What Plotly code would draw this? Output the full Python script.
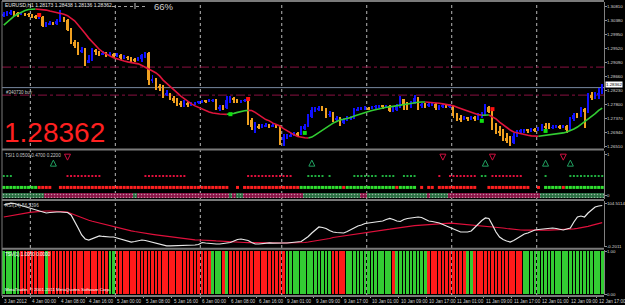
import plotly.graph_objects as go

# ---------------- data ----------------
SYMBOL = "EURUSD,H1"
day_names = ["3 Jan", "4 Jan", "5 Jan", "6 Jan", "9 Jan", "10 Jan", "11 Jan", "12 Jan"]
day_bar_count = [8, 24, 24, 23, 24, 24, 24, 19]
tick_labels = ["3 Jan 2012", "4 Jan 00:00", "4 Jan 08:00", "4 Jan 16:00", "5 Jan 00:00", "5 Jan 08:00",
               "5 Jan 16:00", "6 Jan 00:00", "6 Jan 08:00", "6 Jan 16:00", "9 Jan 01:00", "9 Jan 09:00",
               "9 Jan 17:00", "10 Jan 01:00", "10 Jan 09:00", "10 Jan 17:00", "11 Jan 01:00", "11 Jan 09:00",
               "11 Jan 17:00", "12 Jan 01:00", "12 Jan 09:00", "12 Jan 17:00"]
tick_every = 8

first_open = 1.3055
close = [1.3059, 1.3062, 1.3065, 1.3062, 1.3059, 1.3062, 1.3059, 1.3056, 1.3053, 1.3047,
         1.3050, 1.3022, 1.3028, 1.3031, 1.3028, 1.3038, 1.3050, 1.3041, 1.3010, 1.2973,
         1.2961, 1.2942, 1.2949, 1.2909, 1.2918, 1.2949, 1.2942, 1.2936, 1.2939, 1.2933,
         1.2936, 1.2930, 1.2933, 1.2924, 1.2927, 1.2924, 1.2918, 1.2917, 1.2921, 1.2933,
         1.2939, 1.2856, 1.2859, 1.2838, 1.2832, 1.2810, 1.2817, 1.2801, 1.2792, 1.2783,
         1.2780, 1.2783, 1.2780, 1.2783, 1.2786, 1.2789, 1.2792, 1.2790, 1.2793, 1.2795,
         1.2770, 1.2774, 1.2770, 1.2795, 1.2801, 1.2795, 1.2792, 1.2793, 1.2795, 1.2734,
         1.2712, 1.2715, 1.2712, 1.2715, 1.2718, 1.2715, 1.2718, 1.2715, 1.2672, 1.2681,
         1.2684, 1.2688, 1.2691, 1.2690, 1.2709, 1.2715, 1.2743, 1.2764, 1.2767, 1.2770,
         1.2767, 1.2749, 1.2752, 1.2734, 1.2737, 1.2724, 1.2734, 1.2740, 1.2741, 1.2764,
         1.2767, 1.2770, 1.2771, 1.2767, 1.2774, 1.2775, 1.2777, 1.2774, 1.2777, 1.2761,
         1.2764, 1.2777, 1.2798, 1.2783, 1.2774, 1.2783, 1.2801, 1.2777, 1.2780, 1.2777,
         1.2780, 1.2783, 1.2770, 1.2774, 1.2777, 1.2776, 1.2777, 1.2746, 1.2740, 1.2734,
         1.2740, 1.2737, 1.2740, 1.2737, 1.2749, 1.2752, 1.2774, 1.2758, 1.2718, 1.2700,
         1.2694, 1.2678, 1.2669, 1.2663, 1.2684, 1.2697, 1.2700, 1.2703, 1.2700, 1.2703,
         1.2702, 1.2706, 1.2715, 1.2712, 1.2710, 1.2712, 1.2715, 1.2712, 1.2715, 1.2703,
         1.2737, 1.2749, 1.2746, 1.2767, 1.2758, 1.2810, 1.2801, 1.2813, 1.28173, 1.28362]
high = [1.3065, 1.3068, 1.3071, 1.3068, 1.3065, 1.3065, 1.3063, 1.3062, 1.3059, 1.3056,
        1.3053, 1.3052, 1.3034, 1.3038, 1.3034, 1.3044, 1.3071, 1.3050, 1.3044, 1.3016,
        1.2979, 1.2973, 1.2958, 1.2955, 1.2933, 1.2955, 1.2952, 1.2945, 1.2945, 1.2941,
        1.2942, 1.2939, 1.2939, 1.2936, 1.2933, 1.2930, 1.2927, 1.2924, 1.2927, 1.2936,
        1.2942, 1.2941, 1.2872, 1.2863, 1.2844, 1.2841, 1.2826, 1.2817, 1.2807, 1.2801,
        1.2792, 1.2795, 1.2789, 1.2789, 1.2790, 1.2792, 1.2795, 1.2795, 1.2797, 1.2798,
        1.2798, 1.2780, 1.2780, 1.2807, 1.2807, 1.2803, 1.2798, 1.2796, 1.2798, 1.2797,
        1.2740, 1.2727, 1.2721, 1.2721, 1.2724, 1.2721, 1.2724, 1.2721, 1.2717, 1.2691,
        1.2691, 1.2694, 1.2697, 1.2697, 1.2715, 1.2721, 1.2752, 1.2774, 1.2774, 1.2777,
        1.2777, 1.2770, 1.2761, 1.2758, 1.2746, 1.2743, 1.2740, 1.2746, 1.2746, 1.2770,
        1.2774, 1.2774, 1.2777, 1.2774, 1.2777, 1.2780, 1.2780, 1.2780, 1.2780, 1.2780,
        1.2774, 1.2783, 1.2807, 1.2798, 1.2789, 1.2792, 1.2810, 1.2803, 1.2786, 1.2786,
        1.2786, 1.2786, 1.2786, 1.2780, 1.2783, 1.2783, 1.2783, 1.2779, 1.2755, 1.2749,
        1.2746, 1.2743, 1.2746, 1.2746, 1.2755, 1.2758, 1.2783, 1.2777, 1.2760, 1.2724,
        1.2715, 1.2706, 1.2694, 1.2684, 1.2694, 1.2703, 1.2706, 1.2706, 1.2706, 1.2709,
        1.2709, 1.2712, 1.2721, 1.2724, 1.2724, 1.2718, 1.2718, 1.2718, 1.2718, 1.2718,
        1.2743, 1.2755, 1.2755, 1.2774, 1.2770, 1.2817, 1.2820, 1.2820, 1.2832, 1.28438]
low = [1.3050, 1.3053, 1.3056, 1.3053, 1.3050, 1.3056, 1.3053, 1.3050, 1.3047, 1.3044,
       1.3044, 1.3019, 1.3020, 1.3025, 1.3025, 1.3026, 1.3034, 1.3034, 1.3007, 1.2967,
       1.2955, 1.2933, 1.2939, 1.2899, 1.2909, 1.2915, 1.2933, 1.2930, 1.2933, 1.2927,
       1.2930, 1.2924, 1.2927, 1.2918, 1.2921, 1.2918, 1.2912, 1.2912, 1.2915, 1.2912,
       1.2924, 1.2841, 1.2847, 1.2826, 1.2823, 1.2801, 1.2807, 1.2795, 1.2786, 1.2777,
       1.2774, 1.2774, 1.2774, 1.2777, 1.2780, 1.2783, 1.2786, 1.2786, 1.2788, 1.2790,
       1.2764, 1.2761, 1.2764, 1.2767, 1.2786, 1.2786, 1.2786, 1.2786, 1.2789, 1.2718,
       1.2703, 1.2694, 1.2706, 1.2709, 1.2712, 1.2709, 1.2712, 1.2709, 1.2657, 1.2654,
       1.2675, 1.2681, 1.2684, 1.2684, 1.2688, 1.2703, 1.2712, 1.2740, 1.2758, 1.2761,
       1.2761, 1.2740, 1.2743, 1.2727, 1.2727, 1.2715, 1.2721, 1.2731, 1.2734, 1.2737,
       1.2761, 1.2764, 1.2764, 1.2764, 1.2767, 1.2767, 1.2770, 1.2767, 1.2770, 1.2758,
       1.2758, 1.2761, 1.2770, 1.2764, 1.2764, 1.2770, 1.2783, 1.2764, 1.2770, 1.2770,
       1.2774, 1.2777, 1.2764, 1.2764, 1.2770, 1.2770, 1.2770, 1.2740, 1.2731, 1.2727,
       1.2734, 1.2731, 1.2734, 1.2731, 1.2734, 1.2740, 1.2746, 1.2755, 1.2703, 1.2691,
       1.2684, 1.2669, 1.2663, 1.2654, 1.2660, 1.2681, 1.2691, 1.2694, 1.2694, 1.2697,
       1.2697, 1.2700, 1.2700, 1.2706, 1.2706, 1.2706, 1.2709, 1.2706, 1.2709, 1.2694,
       1.2703, 1.2731, 1.2740, 1.2743, 1.2709, 1.2755, 1.2795, 1.2798, 1.2798, 1.28136]
ma = [1.3025, 1.3034, 1.3044, 1.3053, 1.3059, 1.3065, 1.3070, 1.3073, 1.3074, 1.30742,
      1.30737, 1.3072, 1.3071, 1.3068, 1.3066, 1.3064, 1.3061, 1.3058, 1.3054, 1.3047,
      1.3038, 1.3025, 1.3013, 1.2999, 1.2985, 1.2973, 1.2961, 1.2950, 1.2942, 1.2935,
      1.2930, 1.2925, 1.2921, 1.2918, 1.2915, 1.2912, 1.2910, 1.2909, 1.2906, 1.2901,
      1.2896, 1.2890, 1.2884, 1.2878, 1.2869, 1.2856, 1.2847, 1.2835, 1.2826, 1.2817,
      1.2807, 1.2798, 1.2790, 1.2783, 1.2777, 1.2772, 1.2767, 1.2763, 1.2758, 1.2755,
      1.2753, 1.2752, 1.27514, 1.27510, 1.27515, 1.2754, 1.2757, 1.2760, 1.2762, 1.2763,
      1.27627, 1.2757, 1.2749, 1.2741, 1.2735, 1.2731, 1.2724, 1.2720, 1.2715, 1.2707,
      1.2700, 1.2694, 1.2688, 1.2683, 1.2680, 1.2679, 1.26783, 1.2681, 1.2688, 1.2695,
      1.2703, 1.2711, 1.2718, 1.2724, 1.2729, 1.2734, 1.2736, 1.2738, 1.2741, 1.2746,
      1.2750, 1.2753, 1.2757, 1.2760, 1.2763, 1.2766, 1.2768, 1.2770, 1.2773, 1.2774,
      1.2776, 1.2778, 1.2780, 1.2782, 1.2784, 1.2786, 1.2787, 1.2788, 1.27889, 1.27890,
      1.27885, 1.2788, 1.2787, 1.2785, 1.2783, 1.2781, 1.2780, 1.2777, 1.2773, 1.2769,
      1.2766, 1.2763, 1.2758, 1.2753, 1.2750, 1.2748, 1.27485, 1.2749, 1.2743, 1.2737,
      1.2727, 1.2718, 1.2710, 1.2703, 1.2697, 1.2694, 1.2691, 1.2688, 1.2687, 1.2685,
      1.2684, 1.26835, 1.2685, 1.2686, 1.2687, 1.2688, 1.2690, 1.2692, 1.2694, 1.2697,
      1.2701, 1.2706, 1.2712, 1.2720, 1.2727, 1.2737, 1.2744, 1.2753, 1.2763, 1.2770]

price_ticks = [1.30810, 1.30380, 1.29950, 1.29520, 1.29090, 1.28660, 1.28230,
               1.27800, 1.27370, 1.26940, 1.26510]
pivot_levels = [1.2896, 1.2810]
order_price = 1.2833
order_label = "#340730 buy"
sell_idx = [10, 69, 138]
sell_px = [1.3056, 1.2798, 1.2767]
buy_idx = [64, 85, 135, 153]
buy_px = [1.27515, 1.2694, 1.2731, 1.2700]
gauge_text = "66%"

# TSI panel (state per bar, run-length encoded): g = green, r = red, m = maroon, n = none
tsi_label = "TSI1 0.0500 0.4700 0.2200"
tsi_dots_runs = [("g", 3), ("n", 15), ("r", 10), ("n", 12), ("r", 12), ("n", 17), ("r", 13), ("n", 4),
                 ("g", 5), ("n", 1), ("g", 1), ("n", 6), ("g", 7), ("n", 1), ("g", 4), ("n", 2), ("g", 4),
                 ("n", 6), ("r", 1), ("n", 2), ("r", 8), ("n", 1), ("g", 2), ("n", 1), ("r", 9), ("n", 6),
                 ("g", 1), ("n", 6), ("g", 10)]
tsi_squares_runs = [("g", 10), ("r", 4), ("n", 2), ("r", 48), ("n", 2), ("r", 1), ("n", 1), ("r", 16),
                    ("g", 12), ("r", 1), ("g", 14), ("r", 1), ("g", 5), ("n", 1), ("r", 1), ("n", 1),
                    ("r", 2), ("n", 1), ("r", 11), ("n", 3), ("r", 12), ("n", 2), ("r", 1), ("n", 1),
                    ("g", 5), ("r", 1), ("g", 11)]
tsi_band_runs = [("g", 12), ("m", 25), ("g", 1), ("m", 26), ("g", 1), ("m", 1), ("g", 2), ("m", 17),
                 ("g", 16), ("m", 2), ("g", 17), ("m", 1), ("g", 5), ("m", 26), ("g", 18)]
tsi_up_idx = [14, 87, 136, 153, 160]
tsi_down_idx = [18, 124, 138, 158]

# oscillator panel
rsi_name = "RSI(14)"
rsi_axis_ticks = [104.5114, -0.2011]
rsi_main = [99.6, 102.1, 104.3, 103.3, 100.8, 98.4, 96.0, 93.5, 91.1, 88.7,
            86.2, 82.6, 80.2, 81.4, 82.6, 82.6, 82.6, 82.6, 81.4, 75.3,
            60.7, 43.6, 26.6, 16.8, 14.4, 18.1, 21.7, 24.2, 23.0, 21.7,
            21.7, 21.7, 19.3, 15.6, 13.2, 12.0, 9.5, 10.8, 13.2, 14.4,
            13.2, 10.8, 9.5, 7.1, 4.7, 2.2, 0.1, 0.3, 0.5, 0.2,
            0.4, 0.8, 1.5, 1.5, 2.2, 3.5, 8.3, 7.1, 5.9, 4.7,
            4.7, 4.7, 5.9, 7.1, 8.3, 12.0, 15.6, 16.8, 15.6, 13.2,
            8.3, 4.7, 4.7, 5.9, 7.1, 7.3, 6.8, 7.4, 6.9, 7.1,
            7.1, 8.3, 9.5, 9.5, 10.8, 16.8, 23.0, 31.5, 40.0, 46.1,
            44.8, 42.4, 37.5, 33.9, 32.7, 31.5, 31.5, 35.1, 40.0, 43.6,
            48.5, 50.9, 54.6, 55.8, 57.0, 58.2, 58.2, 60.7, 64.3, 66.8,
            64.3, 60.7, 59.5, 64.3, 66.8, 68.0, 69.2, 70.4, 69.2, 64.3,
            60.7, 59.5, 58.2, 55.8, 52.2, 48.5, 46.1, 42.4, 37.5, 33.9,
            33.9, 33.9, 36.3, 44.8, 54.6, 61.9, 68.0, 66.8, 50.9, 33.9,
            21.7, 15.6, 12.0, 9.5, 13.2, 18.1, 24.2, 29.0, 31.5, 35.1,
            38.8, 40.0, 41.2, 42.4, 43.6, 43.6, 42.4, 40.0, 38.8, 41.2,
            43.6, 58.2, 70.4, 72.8, 70.4, 80.2, 88.7, 94.8, 97.2, 98.4]
rsi_signal = [70.4, 72.1, 73.8, 75.3, 77.0, 78.5, 79.9, 81.1, 82.1, 83.1,
              83.8, 84.5, 85.0, 85.0, 85.0, 84.5, 83.8, 83.1, 82.1, 79.0,
              75.3, 71.6, 68.0, 64.8, 62.4, 60.0, 57.8, 55.8, 53.4, 50.9,
              48.5, 46.1, 44.1, 42.2, 40.5, 38.8, 36.8, 35.1, 33.4, 32.0,
              30.7, 29.5, 28.3, 27.1, 25.9, 24.6, 23.4, 22.2, 21.0, 19.8,
              18.6, 17.3, 16.4, 15.4, 14.7, 14.4, 14.4, 13.9, 13.4, 12.9,
              12.2, 11.5, 10.8, 10.0, 9.5, 9.1, 8.8, 8.6, 8.3, 8.1,
              7.8, 7.6, 7.3, 7.1, 7.1, 7.1, 7.1, 7.1, 7.1, 7.1,
              7.1, 7.1, 7.1, 7.1, 7.1, 8.3, 9.5, 10.8, 12.0, 13.2,
              14.4, 15.6, 18.1, 20.5, 21.7, 23.0, 24.2, 25.4, 26.6, 27.8,
              29.0, 30.2, 31.0, 32.0, 33.4, 34.9, 36.3, 37.8, 39.2, 40.7,
              42.2, 43.6, 45.1, 46.6, 47.8, 48.5, 49.2, 50.0, 50.7, 51.4,
              52.2, 52.9, 53.4, 53.9, 54.6, 55.1, 55.6, 55.1, 54.3, 53.6,
              52.9, 52.2, 51.4, 50.9, 50.2, 49.7, 49.0, 48.5, 47.3, 46.1,
              44.8, 43.6, 42.4, 41.2, 40.2, 39.5, 38.8, 38.3, 38.0, 37.8,
              37.8, 37.8, 38.0, 38.3, 38.5, 38.8, 39.0, 39.2, 39.7, 40.2,
              40.7, 41.7, 42.9, 44.1, 45.6, 47.5, 50.0, 52.6, 55.3, 56.5396]

# bottom state histogram
tsv_label = "TSV(1) 1.0000 0.0000"
tsv_runs = [("g", 5), ("r", 7), ("g", 1), ("r", 17), ("g", 2), ("r", 27), ("g", 3), ("r", 1), ("g", 1),
            ("r", 16), ("g", 13), ("r", 4), ("g", 13), ("r", 1), ("g", 9), ("r", 11), ("g", 2), ("r", 14),
            ("g", 23)]
copyright_text = "MetaTrader, \u00a9 2001-2011 MetaQuotes Software Corp."

# ---------------- helpers ----------------
def expand(runs):
    out = []
    for s, n in runs:
        out.extend([s] * n)
    return out

N = sum(day_bar_count)
idx = list(range(N))
opens = [first_open] + close[:-1]

W, H = 625, 305
ML, MR, MT, MB = 2, 21, 1, 9
PW, PH = W - ML - MR, H - MT - MB

def py(p):  # pixel row -> paper y
    return (H - MB - p) / PH

def px(p):  # pixel col -> paper x
    return (p - ML) / PW

def dom(top, bot):
    return [py(bot), py(top)]

FONT = "Liberation Sans"
BULL, BEAR = "#1010ff", "#f0a020"
fig = go.Figure()

# ---------------- main panel ----------------
cols = [BULL if c >= o else BEAR for o, c in zip(opens, close)]
wick_lo = [min(l, o, c) for l, o, c in zip(low, opens, close)]
wick_hi = [max(h, o, c) for h, o, c in zip(high, opens, close)]
fig.add_trace(go.Bar(x=idx, y=[h - l for h, l in zip(wick_hi, wick_lo)], base=wick_lo, width=0.28,
                     marker=dict(color=cols, line=dict(width=0)), yaxis="y", hoverinfo="skip"))
body_lo = [min(o, c) for o, c in zip(opens, close)]
body_h = [max(abs(c - o), 0.00005) for o, c in zip(opens, close)]
fig.add_trace(go.Bar(x=idx, y=body_h, base=body_lo, width=0.55,
                     marker=dict(color=cols, line=dict(width=0)), yaxis="y", hoverinfo="skip"))

# moving average coloured by slope
seg_col = ["#32cd32" if ma[i] > ma[i - 1] else "#e0143c" for i in range(1, N)]
start = 0
for i in range(1, len(seg_col) + 1):
    if i == len(seg_col) or seg_col[i] != seg_col[start]:
        xs = list(range(start, i + 1))
        fig.add_trace(go.Scatter(x=xs, y=[ma[k] for k in xs], mode="lines", yaxis="y",
                                 line=dict(color=seg_col[start], width=1.6), hoverinfo="skip"))
        start = i

fig.add_trace(go.Scatter(x=sell_idx, y=sell_px, mode="markers", yaxis="y",
                         marker=dict(symbol="square", size=4, color="#ff1010"), hoverinfo="skip"))
fig.add_trace(go.Scatter(x=buy_idx, y=buy_px, mode="markers", yaxis="y",
                         marker=dict(symbol="square", size=4, color="#10e010"), hoverinfo="skip"))

# ---------------- TSI panel ----------------
lv_band, lv_sq, lv_dot, lv_arrow = -0.01, 0.185, 0.463, 0.85
band = expand(tsi_band_runs)
band_col = {"g": "#2a6e42", "m": "#8a1446"}
fig.add_trace(go.Bar(x=idx, y=[0.11] * N, base=lv_band - 0.055, width=1.0, yaxis="y2",
                     marker=dict(color=[band_col[s] for s in band], line=dict(width=0),
                                 pattern=dict(shape=".", size=3, solidity=0.2,
                                              fgcolor=["#4c9a62" if s == "g" else "#a82a5c" for s in band])),
                     hoverinfo="skip"))
sq = expand(tsi_squares_runs)
for key, colr in (("r", "#ff2020"), ("g", "#30e030")):
    xs = [i for i, s in enumerate(sq) if s == key]
    fig.add_trace(go.Scatter(x=xs, y=[lv_sq] * len(xs), mode="markers", yaxis="y2",
                             marker=dict(symbol="square", size=3, color=colr), hoverinfo="skip"))
dots = expand(tsi_dots_runs)
for key, colr in (("r", "#e0103c"), ("g", "#20b040")):
    xs = [i for i, s in enumerate(dots) if s == key]
    fig.add_trace(go.Scatter(x=xs, y=[lv_dot] * len(xs), mode="markers", yaxis="y2",
                             marker=dict(symbol="square", size=2, color=colr), hoverinfo="skip"))
fig.add_trace(go.Scatter(x=tsi_up_idx, y=[lv_arrow] * len(tsi_up_idx), mode="markers", yaxis="y2",
                         marker=dict(symbol="arrow-up-open", size=6, color="#20a060", line=dict(width=1)),
                         hoverinfo="skip"))
fig.add_trace(go.Scatter(x=tsi_down_idx, y=[lv_arrow] * len(tsi_down_idx), mode="markers", yaxis="y2",
                         marker=dict(symbol="arrow-down-open", size=6, color="#d01040", line=dict(width=1)),
                         hoverinfo="skip"))

# ---------------- oscillator panel ----------------
fig.add_trace(go.Scatter(x=idx, y=rsi_signal, mode="lines", yaxis="y3",
                         line=dict(color="#e0103c", width=1.2), hoverinfo="skip"))
fig.add_trace(go.Scatter(x=idx, y=rsi_main, mode="lines", yaxis="y3",
                         line=dict(color="#e8e8e8", width=1.2), hoverinfo="skip"))

# ---------------- histogram panel ----------------
tsv = expand(tsv_runs)
fig.add_trace(go.Bar(x=idx, y=[1] * N, base=0, width=0.78, yaxis="y4",
                     marker=dict(color=["#33cc33" if s == "g" else "#ff1a1a" for s in tsv], line=dict(width=0)),
                     hoverinfo="skip"))

# ---------------- axes ----------------
def yax(domain, rng, tickvals, ticktext):
    return dict(domain=domain, range=rng, anchor="x", side="right", showgrid=False, zeroline=False,
                showline=True, linecolor="#808080", linewidth=1, ticks="outside", ticklen=2,
                tickcolor="#909090", tickvals=tickvals, ticktext=ticktext, ticklabelstandoff=-1,
                tickfont=dict(family=FONT, size=4.4, color="#d8d8d8"), automargin=False, fixedrange=True)

tick_pos = [k * tick_every - 0.5 for k in range(len(tick_labels))]
fig.update_layout(
    width=W, height=H, margin=dict(l=ML, r=MR, t=MT, b=MB),
    paper_bgcolor="black", plot_bgcolor="black", showlegend=False, hovermode=False,
    barmode="overlay", bargap=0, font=dict(family=FONT, color="#d8d8d8"),
    xaxis=dict(domain=[0, 1], range=[-0.5, N - 0.5], anchor="y4", showgrid=False, zeroline=False,
               showticklabels=False, ticks="outside", ticklen=2, tickcolor="#a0a0a0",
               tickvals=tick_pos, showline=False, fixedrange=True),
    yaxis=yax(dom(2, 148), [1.3102 - 0.000307 * 148, 1.3102 - 0.000307 * 2],
              price_ticks, [f"{p:.5f}" for p in price_ticks]),
    yaxis2=yax(dom(151, 199), [-4 / 41, 1 + 3 / 41], [0, 1], ["0", "1"]),
    yaxis3=yax(dom(201, 247), [-2.64, 109.4], rsi_axis_ticks, [f"{v:.4f}" for v in rsi_axis_ticks]),
    yaxis4=yax(dom(250, 295), [-0.02, 1.03], [0, 1], ["0.00", "1.00"]),
)

shapes = []
# period separators (day starts)
b = 0
for n in day_bar_count[:-1]:
    b += n
    shapes.append(dict(type="line", xref="x", yref="paper", x0=b - 0.5, x1=b - 0.5, y0=0, y1=1,
                       line=dict(color="#b8b8b8", width=1, dash="dot"), layer="below"))
# pivot levels and order line
for lv in pivot_levels:
    shapes.append(dict(type="line", xref="paper", yref="y", x0=0, x1=1, y0=lv, y1=lv,
                       line=dict(color="#8a1040", width=1, dash="dashdot"), layer="below"))
shapes.append(dict(type="line", xref="paper", yref="y", x0=0, x1=1, y0=order_price, y1=order_price,
                   line=dict(color="#7888a0", width=1), layer="below"))
# panel separators / frame
for p in (1, 149.5, 200, 248.7, 296):
    shapes.append(dict(type="line", xref="paper", yref="paper", x0=0, x1=1, y0=py(p), y1=py(p),
                       line=dict(color="#7a7a7a", width=2)))
shapes.append(dict(type="line", xref="paper", yref="paper", x0=0, x1=0, y0=0, y1=1,
                   line=dict(color="#7a7a7a", width=1)))
# gauge at top
shapes.append(dict(type="line", xref="paper", yref="paper", x0=px(112), x1=px(148), y0=py(6.5), y1=py(6.5),
                   line=dict(color="#a0a0a0", width=1, dash="dot")))
shapes.append(dict(type="line", xref="paper", yref="paper", x0=px(135), x1=px(135), y0=py(3), y1=py(9),
                   line=dict(color="#c0c0c0", width=1)))
fig.update_layout(shapes=shapes)

ann = []
def txt(x, y, t, size=5, color="#d8d8d8", xanchor="left", yanchor="middle", **kw):
    ann.append(dict(x=x, y=y, xref="paper", yref="paper", text=t, showarrow=False, xanchor=xanchor,
                    yanchor=yanchor, font=dict(family=FONT, size=size, color=color), **kw))

txt(px(3), py(5), f"{SYMBOL} {opens[-1]:.5f} {high[-1]:.5f} {low[-1]:.5f} {close[-1]:.5f}", size=5, color="#e8e8e8")
txt(px(152), py(6.5), gauge_text, size=9.5, color="#d0d0d0")
txt(px(2), py(132.5), f"{close[-1]:.5f}", size=28, color="#ff2020")
ann.append(dict(x=0, y=order_price, xref="paper", yref="y", text=order_label, showarrow=False,
                xanchor="left", yanchor="top", xshift=2, font=dict(family=FONT, size=4.5, color="#c8c8c8")))
ann.append(dict(x=1, y=close[-1], xref="paper", yref="y", text=f"{close[-1]:.5f}", showarrow=False,
                xanchor="left", yanchor="middle", xshift=1, yshift=2, bgcolor="white", borderpad=0,
                font=dict(family=FONT, size=4.4, color="black")))
txt(px(3), py(155), tsi_label, size=4.6, color="#c8c8c8")
txt(px(3), py(205), f"{rsi_name} {rsi_signal[-1]:.4f}", size=4.6, color="#c8c8c8")
txt(px(3), py(254), tsv_label, size=4.6, color="#ffffff")
txt(px(3), py(289), copyright_text, size=4.4, color="#ffffff")
for pos, lab in zip(tick_pos, tick_labels):
    ann.append(dict(x=pos, y=py(301), xref="x", yref="paper", text=lab, showarrow=False, xanchor="left",
                    yanchor="middle", font=dict(family=FONT, size=4.6, color="#d0d0d0")))
fig.update_layout(annotations=ann)

fig.write_html("out.html")
